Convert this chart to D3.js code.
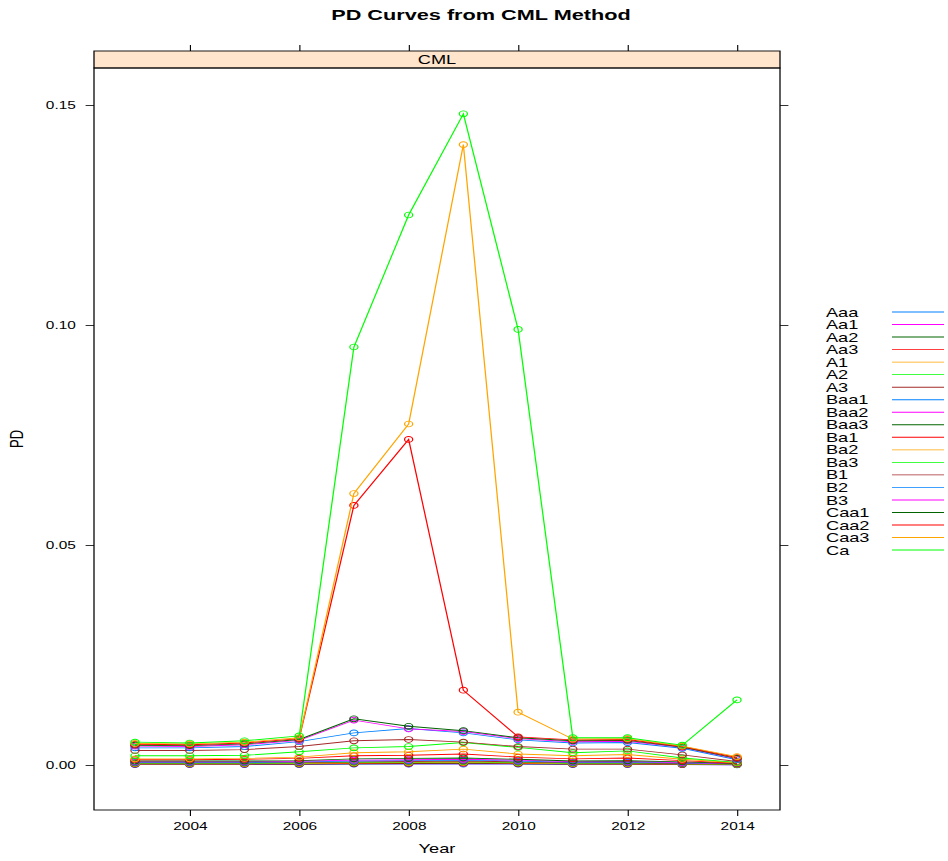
<!DOCTYPE html>
<html>
<head>
<meta charset="utf-8">
<script src="https://cdn.jsdelivr.net/npm/d3@7"></script>
<style>
  html, body { margin: 0; padding: 0; background: #fff; }
  svg { display: block; }
  text { font-family: "Liberation Sans", Arial, Helvetica, sans-serif; }
</style>
</head>
<body>
<svg id="chart" width="948" height="861"></svg>
<script>
// Years observed
const years = [2003, 2004, 2005, 2006, 2007, 2008, 2009, 2010, 2011, 2012, 2013, 2014];

// Rating grades, in plotting order
const ratings = ["Aaa", "Aa1", "Aa2", "Aa3", "A1", "A2", "A3", "Baa1", "Baa2", "Baa3",
                 "Ba1", "Ba2", "Ba3", "B1", "B2", "B3", "Caa1", "Caa2", "Caa3", "Ca"];

// PD by year for each grade
const pdAaa  = [0.0001, 0.0001, 0.0001, 0.0001, 0.0002, 0.0002, 0.0002, 0.0002, 0.0001, 0.0001, 0.0001, 0.00005];
const pdAa1  = [0.00015, 0.00015, 0.00015, 0.00015, 0.00025, 0.00025, 0.0003, 0.00025, 0.00015, 0.00015, 0.0001, 0.00007];
const pdAa2  = [0.0002, 0.0002, 0.0002, 0.0002, 0.0003, 0.00035, 0.0004, 0.0003, 0.0002, 0.0002, 0.00015, 0.00008];
const pdAa3  = [0.00025, 0.00025, 0.00025, 0.0003, 0.0004, 0.00045, 0.0005, 0.0004, 0.00025, 0.00025, 0.0002, 0.0001];
const pdA1   = [0.0003, 0.0003, 0.0003, 0.00035, 0.0005, 0.00055, 0.0006, 0.0005, 0.0003, 0.0003, 0.00025, 0.00012];
const pdA2   = [0.0004, 0.0004, 0.0004, 0.00045, 0.0006, 0.00065, 0.0007, 0.0006, 0.0004, 0.0004, 0.0003, 0.00015];
const pdA3   = [0.0005, 0.0005, 0.0005, 0.00055, 0.0007, 0.0008, 0.0009, 0.0007, 0.0005, 0.0005, 0.00035, 0.0002];
const pdBaa1 = [0.0006, 0.0006, 0.0006, 0.0007, 0.0009, 0.001, 0.0011, 0.0009, 0.0006, 0.00065, 0.00045, 0.00025];
const pdBaa2 = [0.00075, 0.00075, 0.00075, 0.00085, 0.0011, 0.0012, 0.0013, 0.0011, 0.00075, 0.0008, 0.00055, 0.0003];
const pdBaa3 = [0.0009, 0.0009, 0.0009, 0.001, 0.0014, 0.0015, 0.0016, 0.0013, 0.0009, 0.00095, 0.0007, 0.00035];
const pdBa1  = [0.0012, 0.0012, 0.0013, 0.0015, 0.0021, 0.0022, 0.0025, 0.0018, 0.0014, 0.0016, 0.001, 0.0004];
const pdBa2  = [0.0014, 0.0014, 0.0015, 0.0018, 0.0028, 0.003, 0.0036, 0.0025, 0.0021, 0.0024, 0.0013, 0.0005];
const pdBa3  = [0.0021, 0.0021, 0.0022, 0.003, 0.0039, 0.0042, 0.0051, 0.004, 0.0028, 0.0032, 0.0016, 0.0006];
const pdB1   = [0.0033, 0.0033, 0.0035, 0.0042, 0.0055, 0.0058, 0.0052, 0.0042, 0.0036, 0.0036, 0.0023, 0.0008];
const pdB2   = [0.0039, 0.0039, 0.0042, 0.0053, 0.0073, 0.0083, 0.0073, 0.0057, 0.005, 0.0051, 0.0038, 0.0012];
const pdB3   = [0.0043, 0.0042, 0.0046, 0.0056, 0.0102, 0.0082, 0.0076, 0.006, 0.0053, 0.0054, 0.004, 0.0014];
const pdCaa1 = [0.0045, 0.0044, 0.0048, 0.0058, 0.0105, 0.0088, 0.0078, 0.0062, 0.0055, 0.0056, 0.0041, 0.0015];
const pdCaa2 = [0.0047, 0.0046, 0.005, 0.006, 0.059, 0.074, 0.017, 0.0064, 0.0057, 0.0058, 0.0042, 0.0017];
const pdCaa3 = [0.0049, 0.0048, 0.0052, 0.0062, 0.0617, 0.0775, 0.141, 0.012, 0.0059, 0.006, 0.0043, 0.0019];
const pdCa   = [0.0052, 0.005, 0.0055, 0.0066, 0.095, 0.125, 0.148, 0.099, 0.0062, 0.0062, 0.0045, 0.0148];

const seriesValues = [pdAaa, pdAa1, pdAa2, pdAa3, pdA1, pdA2, pdA3, pdBaa1, pdBaa2, pdBaa3,
                      pdBa1, pdBa2, pdBa3, pdB1, pdB2, pdB3, pdCaa1, pdCaa2, pdCaa3, pdCa];

// Axis ticks
const xTicks = [2004, 2006, 2008, 2010, 2012, 2014];
const yTicks = [0, 0.05, 0.10, 0.15];

// Trellis-style superposed palette, recycled over the groups
const palette = ["#0080ff", "#ff00ff", "#006400", "#ff0000", "#ffa500", "#00ff00", "#a52a2a"];

// The device is drawn at a narrower aspect and stretched horizontally
const SX = 1.4;
const W = 948 / SX, H = 861;

const panel = { left: 94 / SX, right: 780 / SX, top: 68, bottom: 810 };
const strip = { top: 51, bottom: 68 };

const x = d3.scaleLinear().domain([2003, 2014]).range([135 / SX, 737 / SX]);
const y = d3.scaleLinear().domain([0, 0.15]).range([765, 105]);

const svg = d3.select("#chart");
const root = svg.append("g").attr("transform", `scale(${SX},1)`);

// Title
root.append("text")
  .attr("x", 481 / SX).attr("y", 20)
  .attr("text-anchor", "middle")
  .attr("font-size", 15.5).attr("font-weight", "bold")
  .text("PD Curves from CML Method");

// Strip
root.append("rect")
  .attr("x", panel.left).attr("y", strip.top)
  .attr("width", panel.right - panel.left).attr("height", strip.bottom - strip.top)
  .attr("fill", "#ffe5cc").attr("stroke", "#000").attr("stroke-width", 0.9);
root.append("text")
  .attr("x", (panel.left + panel.right) / 2).attr("y", strip.bottom - 3.5)
  .attr("text-anchor", "middle").attr("font-size", 13)
  .text("CML");

// Axes
const axisStyle = g => {
  g.select(".domain").remove();
  g.selectAll("line").attr("stroke", "#000").attr("stroke-width", 0.8);
  g.selectAll("text").attr("font-size", 11).attr("fill", "#000")
    .attr("font-family", "\"Liberation Sans\", Arial, sans-serif");
};

root.append("g")
  .attr("transform", `translate(${panel.left},0)`)
  .call(d3.axisLeft(y).tickValues(yTicks).tickFormat(d3.format(".2f")).tickSize(6).tickPadding(7))
  .call(axisStyle);

root.append("g")
  .attr("transform", `translate(${panel.right},0)`)
  .call(d3.axisRight(y).tickValues(yTicks).tickFormat("").tickSize(6))
  .call(axisStyle);

root.append("g")
  .attr("transform", `translate(0,${panel.bottom})`)
  .call(d3.axisBottom(x).tickValues(xTicks).tickFormat(d3.format("d")).tickSize(6).tickPadding(6))
  .call(axisStyle);

root.append("g")
  .attr("transform", `translate(0,${strip.top})`)
  .call(d3.axisTop(x).tickValues(xTicks).tickFormat("").tickSize(6))
  .call(axisStyle);

// Panel box
root.append("rect")
  .attr("x", panel.left).attr("y", panel.top)
  .attr("width", panel.right - panel.left).attr("height", panel.bottom - panel.top)
  .attr("fill", "none").attr("stroke", "#000").attr("stroke-width", 0.9);

// Axis titles
root.append("text")
  .attr("x", (panel.left + panel.right) / 2).attr("y", 853)
  .attr("text-anchor", "middle").attr("font-size", 13)
  .text("Year");
root.append("text")
  .attr("transform", `translate(${23 / SX},${(panel.top + panel.bottom) / 2}) rotate(-90)`)
  .attr("text-anchor", "middle").attr("font-size", 13)
  .text("PD");

// Series
const series = ratings.map((name, i) => ({
  name,
  color: palette[i % palette.length],
  values: years.map((yr, j) => ({ year: yr, pd: seriesValues[i][j] }))
}));

const line = d3.line().x(d => x(d.year)).y(d => y(d.pd));

const plot = root.append("g");
series.forEach(s => {
  const g = plot.append("g");
  g.append("path")
    .attr("d", line(s.values))
    .attr("fill", "none").attr("stroke", s.color).attr("stroke-width", 0.9);
  g.selectAll("circle").data(s.values).join("circle")
    .attr("cx", d => x(d.year)).attr("cy", d => y(d.pd)).attr("r", 2.9)
    .attr("fill", "none").attr("stroke", s.color).attr("stroke-width", 0.9);
});

// Legend
const legend = root.append("g");
const legY0 = 312, legStep = 12.53;
series.forEach((s, i) => {
  const yy = legY0 + i * legStep;
  legend.append("text")
    .attr("x", 826 / SX).attr("y", yy + 4.6)
    .attr("font-size", 13)
    .text(s.name);
  legend.append("line")
    .attr("x1", 892 / SX).attr("x2", 944 / SX)
    .attr("y1", yy).attr("y2", yy)
    .attr("stroke", s.color).attr("stroke-width", 0.9);
});
</script>
</body>
</html>
